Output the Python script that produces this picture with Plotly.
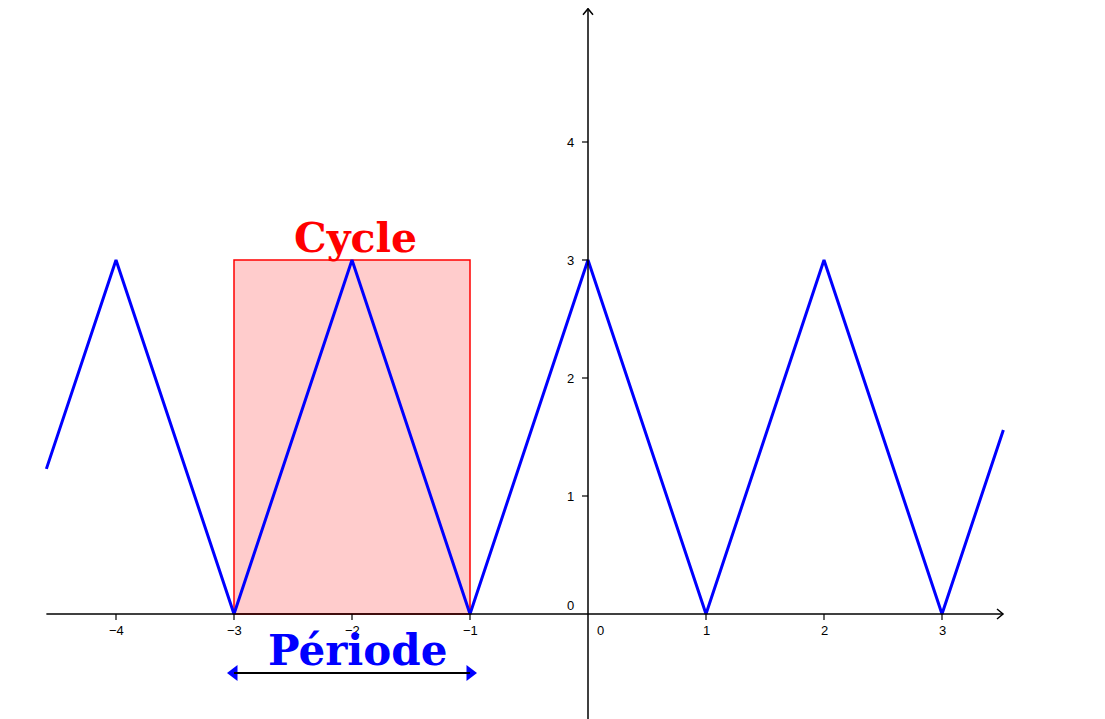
import plotly.graph_objects as go

# data
curve_x = [-4.59, -4, -3, -2, -1, 0, 1, 2, 3, 3.52]
curve_y = [1.23, 3, 0, 3, 0, 3, 0, 3, 0, 1.56]
x_ticks = [-4, -3, -2, -1, 1, 2, 3]
x_tick_labels = ["\u22124", "\u22123", "\u22122", "\u22121", "1", "2", "3"]
y_ticks = [1, 2, 3, 4]
y_tick_labels = ["1", "2", "3", "4"]
cycle_x = [-3, -1]
cycle_y = [0, 3]
period_x = [-3, -1]
period_y = -0.5

W, H = 1105, 719
PX = 118.0  # pixels per unit
# page body has an 8px margin; compensate so origin lands at (588, 614) on screen
x0px, y0px = 588.0 - 8, 614.0 - 8
xr = [(0 - x0px) / PX, (W - x0px) / PX]
yr = [(y0px - H) / PX, y0px / PX]
u = 1.0 / PX

x_min, x_max = curve_x[0], 3.517
y_max = 5.13

fig = go.Figure()

shapes = []
shapes.append(dict(type="rect", xref="x", yref="y", x0=cycle_x[0], x1=cycle_x[1], y0=cycle_y[0], y1=cycle_y[1],
                   fillcolor="rgba(255,0,0,0.2)", line=dict(color="#FF0000", width=1.5), layer="below"))
shapes.append(dict(type="line", xref="x", yref="y", x0=x_min, x1=x_max, y0=0, y1=0, line=dict(color="black", width=1.5)))
shapes.append(dict(type="line", xref="x", yref="y", x0=0, x1=0, y0=yr[0], y1=y_max, line=dict(color="black", width=1.5)))
shapes.append(dict(type="path", xref="x", yref="y",
                   path=f"M {x_max-6*u},{5*u} L {x_max},0 L {x_max-6*u},{-5*u}",
                   line=dict(color="black", width=1.5)))
shapes.append(dict(type="path", xref="x", yref="y",
                   path=f"M {-5*u},{y_max-6*u} L 0,{y_max} L {5*u},{y_max-6*u}",
                   line=dict(color="black", width=1.5)))
for t in x_ticks:
    shapes.append(dict(type="line", xref="x", yref="y", x0=t, x1=t, y0=0, y1=-6*u, line=dict(color="black", width=1.2)))
for t in y_ticks:
    shapes.append(dict(type="line", xref="x", yref="y", x0=-6*u, x1=0, y0=t, y1=t, line=dict(color="black", width=1.2)))
shapes.append(dict(type="line", xref="x", yref="y", x0=period_x[0], x1=period_x[1], y0=period_y, y1=period_y,
                   line=dict(color="black", width=2)))

fig.add_trace(go.Scatter(x=curve_x, y=curve_y, mode="lines", line=dict(color="#0000FF", width=3),
                         hoverinfo="skip", showlegend=False))
fig.add_trace(go.Scatter(x=period_x, y=[period_y, period_y], mode="markers",
                         marker=dict(symbol=["triangle-left", "triangle-right"], size=14, color="#0000FF",
                                     line=dict(width=0)),
                         hoverinfo="skip", showlegend=False))

ann = []
tick_font = dict(family="Liberation Sans, Arial, sans-serif", size=13, color="black")
for t, lab in zip(x_ticks, x_tick_labels):
    ann.append(dict(x=t, y=-16*u, xref="x", yref="y", text=lab, showarrow=False, font=tick_font,
                    xanchor="center", yanchor="middle"))
ann.append(dict(x=12*u, y=-16*u, xref="x", yref="y", text="0", showarrow=False, font=tick_font,
                xanchor="center", yanchor="middle"))
for t, lab in zip(y_ticks, y_tick_labels):
    ann.append(dict(x=-12*u, y=t, xref="x", yref="y", text=lab, showarrow=False, font=tick_font,
                    xanchor="right", yanchor="middle"))
ann.append(dict(x=-12*u, y=9*u, xref="x", yref="y", text="0", showarrow=False, font=tick_font,
                xanchor="right", yanchor="middle"))

title_font = "DejaVu Serif, serif"
ann.append(dict(x=-2 + 3*u, y=3 + 22*u, xref="x", yref="y", text="<b>Cycle</b>", showarrow=False,
                font=dict(family=title_font, size=41, color="#FF0000"), xanchor="center", yanchor="middle"))
ann.append(dict(x=-2 + 5*u, y=-36*u, xref="x", yref="y", text="<b>Période</b>", showarrow=False,
                font=dict(family=title_font, size=42, color="#0000FF"), xanchor="center", yanchor="middle"))

fig.update_layout(
    width=W, height=H, margin=dict(l=0, r=0, t=0, b=0),
    paper_bgcolor="white", plot_bgcolor="white",
    xaxis=dict(range=xr, visible=False, fixedrange=True),
    yaxis=dict(range=yr, visible=False, fixedrange=True),
    shapes=shapes, annotations=ann, showlegend=False,
)

fig.write_html("out.html")
